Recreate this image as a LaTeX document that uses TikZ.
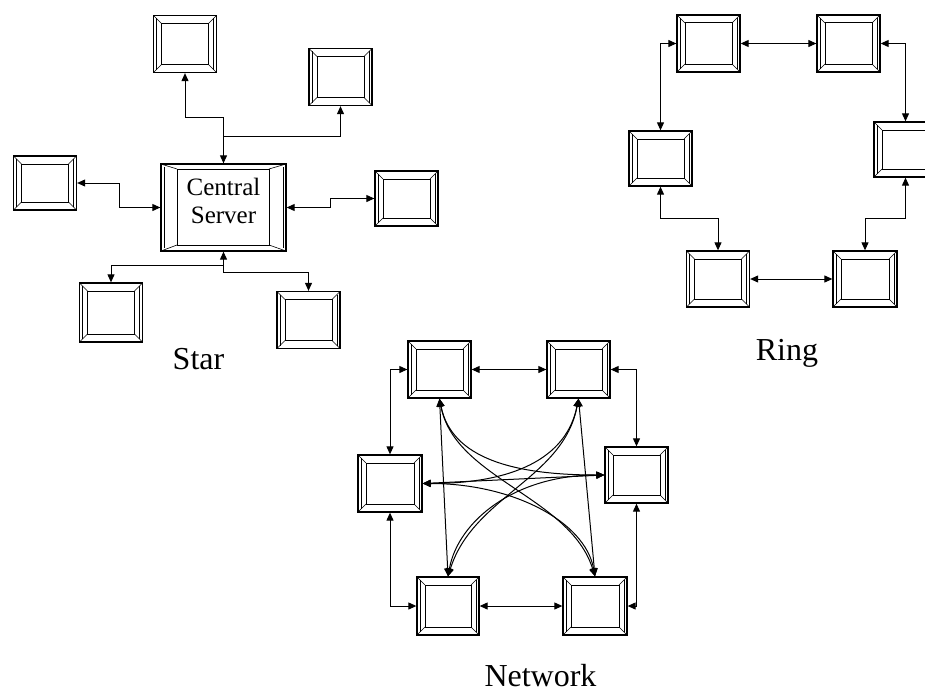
\documentclass[tikz,border=0pt]{standalone}
\usepackage{fontspec}
\setmainfont{Liberation Serif}
\usepackage{tikz}
\usetikzlibrary{calc}
\usetikzlibrary{arrows.meta}
% bevel frame drawn inside a box: insets left, right, top, bottom
\newcommand{\bevelframe}[4]{%
  \draw[line width=0.6pt]
    (path picture bounding box.north west) -- ++(#1,-#3) coordinate (inw)
    (path picture bounding box.north east) -- ++(-#2,-#3) coordinate (ine)
    (path picture bounding box.south east) -- ++(-#2,#4) coordinate (ise)
    (path picture bounding box.south west) -- ++(#1,#4) coordinate (isw);
  \draw[line width=1pt] (inw) -- (ine) -- (ise) -- (isw) -- cycle;
  \draw[line width=0.4pt]
    ($(path picture bounding box.north west)+(3pt,-3pt)$) -- ($(path picture bounding box.south west)+(3pt,3pt)$)
    ($(path picture bounding box.north east)+(-3pt,-3pt)$) -- ($(path picture bounding box.south east)+(-3pt,3pt)$);}
\tikzset{
  pc/.style={draw, line width=1.3pt, inner sep=0pt, minimum width=63pt, minimum height=57pt,
    path picture={\bevelframe{8pt}{8pt}{8pt}{8pt}}},
  server/.style={draw, line width=1.3pt, inner sep=0pt, minimum width=125pt, minimum height=87pt,
    align=center, font=\fontsize{25}{28}\selectfont, text depth=14pt,
    path picture={\bevelframe{16pt}{17pt}{5pt}{6pt}}},
  lbl/.style={anchor=base, inner sep=0pt, font=\fontsize{32}{36}\selectfont},
  link/.style={line width=1pt, {Triangle[length=8pt,width=7pt]}-{Triangle[length=8pt,width=7pt]}},
  tip/.style={line width=1pt, -{Triangle[length=8pt,width=7pt]}}
}
\begin{document}
\begin{tikzpicture}[x=1pt,y=-1pt]
        \useasboundingbox (0,0) rectangle (925,693);

        %star nodes
        \node[server] (srv) at (223.5,207.5) {Central\\Server};
        \node[pc] (sT) at (185,44) {};
        \node[pc] (sTR) at (340.5,77) {};
        \node[pc, minimum height=54pt] (sL) at (45,183) {};
        \node[pc, minimum height=55pt] (sR) at (406.5,198.5) {};
        \node[pc, minimum height=59pt] (sBL) at (111,312.5) {};
        \node[pc] (sBR) at (308.5,320) {};
        \node[lbl] (starlbl) at (198.5,369) {Star};

        %star edges
        \draw[link] (sT.south) -- ++(0,44) -| (srv.north);
        \draw[tip] ([yshift=27pt]srv.north) -| (sTR.south);
        \draw[link] (sL.east) -- ++(42,0) |- (srv.west);
        \draw[link] (srv.east) -- ++(44,0) |- (sR.west);
        \draw[link] (srv.south) -- ++(0,14) -| (sBL.north);
        \draw[tip] ([yshift=-14pt]srv.south) -- ++(0,7) -| (sBR.north);

        %ring nodes
        \node[pc] (rTL) at (708.5,43.5) {};
        \node[pc] (rTR) at (848.5,43.5) {};
        \node[pc, minimum height=55pt] (rL) at (660.5,158.5) {};
        \node[pc, minimum height=55pt] (rR) at (905.5,149.5) {};
        \node[pc, minimum height=56pt] (rBL) at (718,279) {};
        \node[pc, minimum width=64pt, minimum height=56pt] (rBR) at (865,279) {};
        \node[lbl] (ringlbl) at (787,360) {Ring};

        %ring edges
        \draw[link] (rTL.east) -- (rTR.west);
        \draw[link] (rTL.west) -| (rL.north);
        \draw[link] (rTR.east) -| (rR.north);
        \draw[link] (rL.south) -- ++(0,32) -| (rBL.north);
        \draw[link] (rR.south) -- ++(0,41) -| (rBR.north);
        \draw[link] (rBL.east) -- (rBR.west);

        %network nodes
        \node[pc] (nTL) at (439.5,369.5) {};
        \node[pc] (nTR) at (578.5,369.5) {};
        \node[pc, minimum width=64pt] (nL) at (390,483.5) {};
        \node[pc, minimum height=56pt] (nR) at (636.5,475) {};
        \node[pc, minimum width=62pt, minimum height=58pt] (nBL) at (448,606) {};
        \node[pc, minimum width=64pt, minimum height=58pt] (nBR) at (595,606) {};
        \node[lbl] (netlbl) at (540.5,686) {Network};

        %network edges
        \draw[link] (nTL.east) -- (nTR.west);
        \draw[link] (nTL.west) -| (nL.north);
        \draw[link] (nTR.east) -| (nR.north);
        \draw[link] (nL.south) |- (nBL.west);
        \draw[link] (nR.south) |- (nBR.east);
        \draw[link] (nBL.east) -- (nBR.west);
        \draw[link] (nTL.south) -- (nBL.north);
        \draw[link] (nTR.south) -- (nBR.north);
        \draw[link] (nL.east) -- (nR.west);
        \draw[link] (nTL.south) .. controls +(12,60) and +(-90,0) .. (nR.west);
        \draw[link] (nTL.south) .. controls +(15,80) and +(-25,-80) .. (nBR.north);
        \draw[link] (nTR.south) .. controls +(-12,60) and +(90,0) .. (nL.east);
        \draw[link] (nTR.south) .. controls +(-15,80) and +(25,-80) .. (nBL.north);
        \draw[link] (nL.east) .. controls +(90,0) and +(-10,-55) .. (nBR.north);
        \draw[link] (nR.west) .. controls +(-90,0) and +(10,-55) .. (nBL.north);
        \end{tikzpicture}
\end{document}
